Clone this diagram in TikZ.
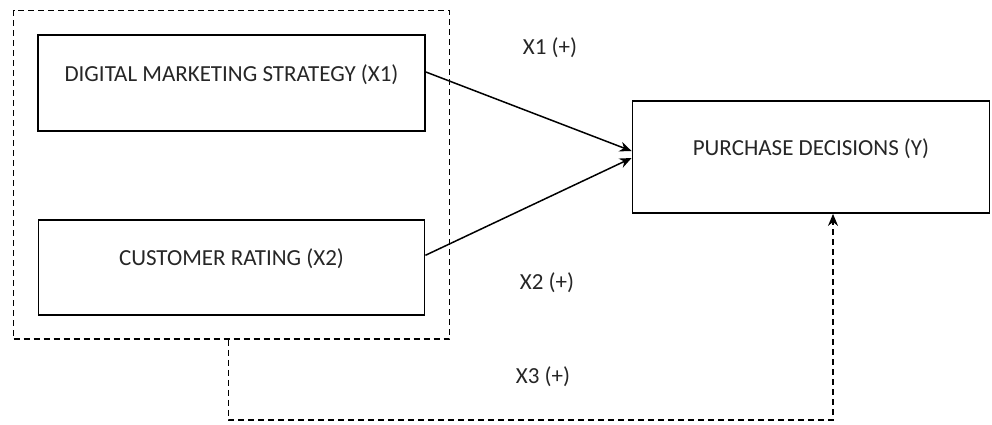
\documentclass[tikz,border=0pt]{standalone}
\usepackage{fontspec}
\setmainfont{Carlito}
\usetikzlibrary{positioning,fit,arrows.meta}

\begin{document}
\begin{tikzpicture}[x=1pt, y=-1pt, font=\fontsize{23}{26}\selectfont,
                    every node/.style={text=black!85},
                    box/.style={draw=black, line width=1.8pt, inner sep=0pt, text height=15pt, text depth=18pt},
                    group/.style={draw=black, dashed, dash pattern=on 6pt off 4pt, line width=1.5pt, inner sep=23.5pt},
                    link/.style={line width=1.5pt, -{Stealth[length=12pt,width=10pt]}}]
  \useasboundingbox (0,0) rectangle (992,424);

  \node[box, minimum width=387pt, minimum height=96pt] (dms) at (231.5,83) {DIGITAL MARKETING STRATEGY (X1)};
  \node[box, minimum width=386pt, minimum height=95pt] (cr) [below=87pt of dms] {CUSTOMER RATING (X2)};
  \node[box, minimum width=357pt, minimum height=112pt] (pd) at (811,157) {PURCHASE DECISIONS (Y)};
  \node[group, fit=(dms)(cr)] (grp) {};

  \node (l1) at (550,48) {X1 (+)};
  \node (l2) at (547,283) {X2 (+)};
  \node (l3) at (543,377) {X3 (+)};

  \coordinate (base) at (0,420);

  \draw[link] ([yshift=11pt]dms.east) -- ([yshift=6pt]pd.west);
  \draw[link] ([yshift=12pt]cr.east) -- ([yshift=-1pt]pd.west);
  \draw[link, dashed, dash pattern=on 6pt off 4pt] ([xshift=-3pt]grp.south) -- ([xshift=-3pt]grp.south |- base)
    -| ([xshift=22pt]pd.south);
\end{tikzpicture}
\end{document}
